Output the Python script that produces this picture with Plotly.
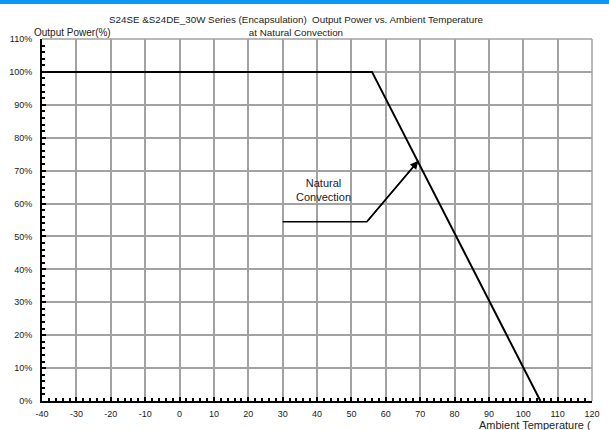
import plotly.graph_objects as go

# Derating curve: output power (%) vs ambient temperature (°C)
temp_c = [-40, 56, 105]
power_pct = [100, 100, 0]

# Leader line for the "Natural Convection" label
leader_x = [30, 54.5, 69.5]
leader_y = [54.5, 54.5, 73]

x_ticks = list(range(-40, 121, 10))
y_ticks = list(range(0, 111, 10))
y_tick_text = [f"{v}%" for v in y_ticks]

FONT = "Liberation Sans, Arial, sans-serif"
GRID = "#a2a2a2"
TXT = "#222"

fig = go.Figure()

fig.add_trace(go.Scatter(
    x=temp_c, y=power_pct, mode="lines",
    line=dict(color="black", width=2), hoverinfo="skip", showlegend=False,
))
fig.add_trace(go.Scatter(
    x=leader_x, y=leader_y, mode="lines",
    line=dict(color="black", width=1.5), hoverinfo="skip", showlegend=False,
))

# arrowhead at the end of the leader line
fig.add_annotation(
    x=leader_x[-1], y=leader_y[-1], ax=leader_x[-2], ay=leader_y[-2],
    xref="x", yref="y", axref="x", ayref="y",
    showarrow=True, arrowhead=2, arrowsize=1.1, arrowwidth=1.5,
    arrowcolor="black", text="",
)
fig.add_annotation(
    x=42, y=64, xref="x", yref="y", text="Natural<br>Convection",
    showarrow=False, font=dict(family=FONT, size=11, color=TXT),
)

# chart titles and axis captions
fig.add_annotation(
    x=0.461, y=1.037, xref="paper", yref="paper", xanchor="center", yanchor="middle",
    text="S24SE &S24DE_30W Series (Encapsulation)  Output Power vs. Ambient Temperature<br>at Natural Convection",
    showarrow=False, font=dict(family=FONT, size=9.8, color=TXT),
)
fig.add_annotation(
    x=-0.018, y=1.019, xref="paper", yref="paper", xanchor="left", yanchor="middle",
    text="Output Power(%)", showarrow=False,
    font=dict(family=FONT, size=10, color=TXT),
)
fig.add_annotation(
    x=0.896, y=-0.0655, xref="paper", yref="paper", xanchor="center", yanchor="middle",
    text="Ambient Temperature (", showarrow=False,
    font=dict(family=FONT, size=11, color=TXT),
)

# grey frame on top and right
fig.add_shape(type="line", xref="paper", yref="paper", x0=0, x1=1, y0=1, y1=1,
              line=dict(color=GRID, width=1.5), layer="below")
fig.add_shape(type="line", xref="paper", yref="paper", x0=1, x1=1, y0=0, y1=1,
              line=dict(color=GRID, width=1.5), layer="below")
# blue strip across the top edge of the page
fig.add_shape(type="rect", xref="paper", yref="paper", x0=-0.1, x1=1.1,
              y0=1.0967, y1=1.112, fillcolor="#0a98f5", line=dict(width=0),
              layer="above")

fig.update_xaxes(
    range=[-40, 120], tickvals=x_ticks, ticktext=[str(v) for v in x_ticks],
    showgrid=True, gridcolor=GRID, gridwidth=1.5, zeroline=False,
    showline=True, linecolor="black", linewidth=2,
    ticks="inside", ticklen=4, tickcolor="black", tickwidth=1.5,
    minor=dict(dtick=2, ticks="inside", ticklen=3, tickcolor="black", tickwidth=1.5, showgrid=False),
    tickfont=dict(family=FONT, size=9, color=TXT), ticklabelstandoff=3,
    fixedrange=True,
)
fig.update_yaxes(
    range=[0, 110], tickvals=y_ticks, ticktext=y_tick_text,
    showgrid=True, gridcolor=GRID, gridwidth=1.5, zeroline=False,
    showline=True, linecolor="black", linewidth=2,
    ticks="inside", ticklen=4, tickcolor="black", tickwidth=1.5,
    minor=dict(dtick=2, ticks="inside", ticklen=3, tickcolor="black", tickwidth=1.5, showgrid=False),
    tickfont=dict(family=FONT, size=9, color=TXT), ticklabelstandoff=6,
    fixedrange=True,
)

fig.update_layout(
    width=609, height=430,
    margin=dict(l=40, r=9, t=39, b=29),
    paper_bgcolor="white", plot_bgcolor="white",
    showlegend=False,
)

fig.write_html("out.html", config={"displayModeBar": False})
